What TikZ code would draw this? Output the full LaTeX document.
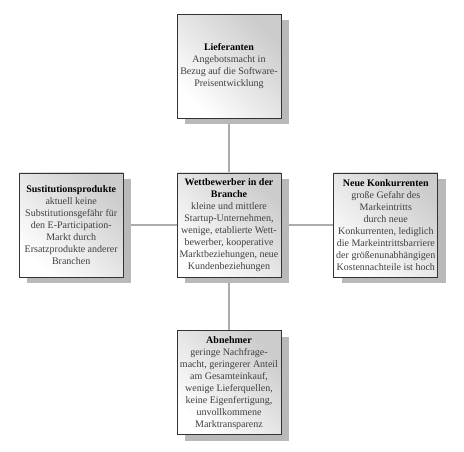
\documentclass[tikz,border=0pt]{standalone}
\usepackage{fontspec}
\setmainfont{Liberation Serif}
\usepackage{xcolor}
\usetikzlibrary{positioning,shadows,backgrounds}

\begin{document}
\begin{tikzpicture}[
    kraft/.style={draw=black!80, line width=0.8pt, minimum size=104pt, inner sep=0pt,
                  anchor=center, align=center, text=black!75,
                  top color=gray!40, bottom color=white, shading angle=-45,
                  drop shadow={shadow xshift=8pt, shadow yshift=-6pt, fill=gray!55, opacity=1},
                  font=\fontsize{10}{12}\selectfont},
    link/.style={draw=gray!65, line width=1.3pt}]
            \useasboundingbox (0,0) rectangle (464pt,-452pt);

            \node[kraft] (wb) at (229pt,-225pt) {\textcolor{black}{\textbf{Wettbewerber in der}}\\\textcolor{black}{\textbf{Branche}}\\kleine und mittlere\\Startup-Unternehmen,\\wenige, etablierte Wett-\\bewerber, kooperative\\Marktbeziehungen, neue\\Kundenbeziehungen};
            \node[kraft, above=54pt of wb] (lief) {\textcolor{black}{\textbf{Lieferanten}}\\Angebotsmacht in\\Bezug auf die Software-\\Preisentwicklung};
            \node[kraft, left=53pt of wb] (subst) {\textcolor{black}{\textbf{Sustitutionsprodukte}}\\aktuell keine\\Substitutionsgefähr für\\den E-Participation-\\Markt durch\\Ersatzprodukte anderer\\Branchen};
            \node[kraft, right=52pt of wb] (konk) {\textcolor{black}{\textbf{Neue Konkurrenten}}\\große Gefahr des\\Markeintritts\\durch neue\\Konkurrenten, lediglich\\die Markeintrittsbarriere\\der größenunabhängigen\\Kostennachteile ist hoch};
            \node[kraft, below=53pt of wb] (abn) {\textcolor{black}{\textbf{Abnehmer}}\\geringe Nachfrage-\\macht, geringerer Anteil\\am Gesamteinkauf,\\wenige Lieferquellen,\\keine Eigenfertigung,\\unvollkommene\\Marktransparenz};

            % Verbindungen hinter den Kästen
            \begin{pgfonlayer}{background}
            \draw[link] (lief.center) -- (abn.center);
            \draw[link] (subst.center) -- (konk.center);
            \end{pgfonlayer}
        \end{tikzpicture}
\end{document}
